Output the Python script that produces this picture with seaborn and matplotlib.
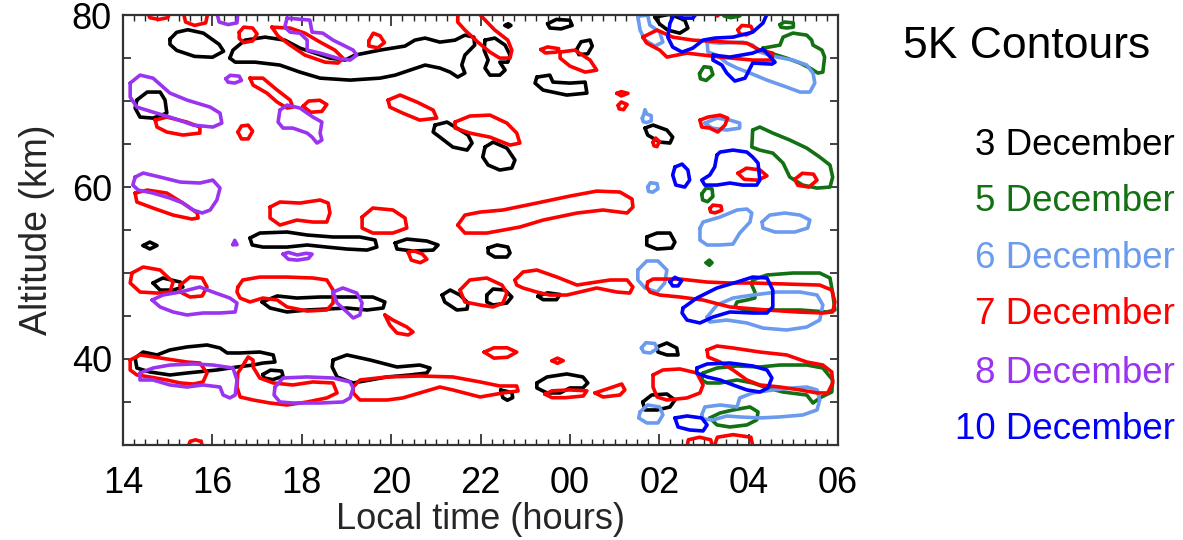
import matplotlib
matplotlib.use("Agg")
import matplotlib.pyplot as plt
from matplotlib.ticker import MultipleLocator, FixedLocator, FuncFormatter
import seaborn as sns
import pandas as pd

# ---------------- data (time in hours from 14 to 30 = 06 next day, altitude km) ----------------
days = ["3 December", "5 December", "6 December", "7 December", "8 December", "10 December"]
day_colors = ["#000000", "#137013", "#6a9bef", "#ff0000", "#9a34f0", "#0000ff"]

x_tick_values = [14, 16, 18, 20, 22, 24, 26, 28, 30]
x_tick_labels = ["14", "16", "18", "20", "22", "00", "02", "04", "06"]
y_tick_values = [40, 60, 80]
y_tick_labels = ["40", "60", "80"]

dec3_contours = [
    [(15.05,77.2),(15.2,78.0),(15.45,78.3),(15.8,77.9),(16.15,76.6),(16.25,75.8),(16.0,75.1),(15.6,75.2),(15.2,75.9),(15.05,76.6)],
    [(16.39,75.0),(16.46,75.93),(16.73,77.09),(17.18,77.44),(17.62,77.09),(17.96,76.16),(18.63,75.0),(18.97,74.77),(19.19,75.35),(19.75,75.93),(20.31,76.4),(20.53,77.09),(20.76,77.33),(21.09,76.86),(21.43,77.09),(21.65,77.67),(21.85,77.44),(21.87,76.51),(21.65,75.35),(21.58,74.19),(21.65,73.26),(21.49,72.79),(21.32,73.37),(21.09,73.84),(20.76,74.19),(20.42,73.6),(20.09,73.02),(19.75,72.67),(19.08,72.44),(18.41,72.67),(17.96,73.37),(17.51,74.19),(16.95,74.53),(16.51,74.53)],
    [(22.1,77.09),(22.32,77.33),(22.55,76.51),(22.66,75.35),(22.61,74.53),(22.43,74.53),(22.55,73.6),(22.43,73.02),(22.21,73.02),(22.1,73.84),(22.17,74.77),(22.08,75.93)],
    [(22.55,78.8),(22.62,79.0),(22.68,78.8),(22.62,78.6)],
    [(23.5,79.0),(23.7,79.5),(24.0,79.4),(24.05,78.8),(23.8,78.4),(23.55,78.5)],
    [(24.15,76.0),(24.25,76.9),(24.45,77.1),(24.5,76.4),(24.4,75.5),(24.2,75.4)],
    [(23.26,72.79),(23.55,73.02),(23.62,72.21),(24.0,72.09),(24.34,72.21),(24.38,70.93),(23.93,70.7),(23.4,71.28),(23.22,72.09)],
    [(25.9,79.77),(26.24,80.1),(26.57,79.42),(26.64,78.49),(26.46,77.9),(26.19,78.26),(26.01,78.95)],
    [(14.31,70.12),(14.54,71.05),(14.83,71.05),(14.94,70.12),(14.98,68.6),(14.67,68.02),(14.38,68.14),(14.27,69.19)],
    [(20.98,67.21),(21.25,67.56),(21.47,66.86),(21.72,66.05),(21.81,65.12),(21.7,64.3),(21.38,64.65),(21.09,65.81),(20.94,66.4)],
    [(22.1,64.65),(22.28,65.23),(22.59,64.53),(22.77,63.14),(22.7,62.21),(22.43,61.98),(22.17,62.56),(22.05,63.49)],
    [(25.68,66.86),(25.86,67.21),(26.17,66.63),(26.3,65.81),(26.24,65.12),(26.01,65.23),(25.74,66.05)],
    [(25.72,54.19),(25.95,54.65),(26.24,54.65),(26.35,53.6),(26.28,52.91),(25.95,52.79),(25.72,53.26)],
    [(14.45,53.2),(14.6,53.6),(14.76,53.2),(14.6,52.8)],
    [(16.84,54.07),(17.06,54.65),(17.67,54.77),(18.12,54.42),(18.7,54.19),(19.3,54.19),(19.64,53.84),(19.68,53.02),(19.46,52.67),(19.01,52.79),(18.56,53.02),(18.12,53.26),(17.67,53.02),(17.13,53.02),(16.89,53.26)],
    [(20.09,53.49),(20.35,53.95),(20.8,53.72),(21.05,53.26),(20.94,52.67),(20.49,52.56),(20.13,52.79)],
    [(22.17,52.91),(22.37,53.26),(22.61,53.02),(22.66,52.33),(22.59,51.86),(22.32,51.86),(22.17,52.33)],
    [(14.67,48.84),(14.89,49.42),(15.28,48.95),(15.34,48.37),(15.12,48.02),(14.83,48.02)],
    [(17.11,46.63),(17.45,47.33),(17.89,47.09),(18.41,47.21),(19.01,47.21),(19.59,47.21),(19.86,46.63),(19.82,45.93),(19.46,45.7),(19.01,45.93),(18.56,45.81),(18.12,45.7),(17.67,45.47),(17.29,45.93)],
    [(21.14,47.44),(21.32,48.02),(21.54,47.44),(21.72,46.51),(21.7,45.81),(21.47,45.7),(21.2,46.63)],
    [(22.14,47.44),(22.28,48.14),(22.55,48.02),(22.7,47.21),(22.59,46.51),(22.28,46.28),(22.14,46.63)],
    [(23.28,47.3),(23.5,47.7),(23.78,47.5),(23.7,46.9),(23.4,46.9)],
    [(25.95,41.4),(26.17,41.86),(26.39,41.28),(26.42,40.47),(26.17,40.47),(25.97,40.81)],
    [(14.27,40.12),(14.45,40.81),(14.76,40.47),(15.05,41.05),(15.43,41.4),(15.88,41.63),(16.17,41.28),(16.33,40.7),(16.62,40.7),(17.06,40.81),(17.36,40.47),(17.4,39.65),(17.13,39.53),(16.91,39.3),(16.55,39.07),(16.1,38.72),(15.43,38.37),(15.05,38.14),(14.6,38.49),(14.31,38.95)],
    [(17.13,38.2),(17.3,38.7),(17.55,38.6),(17.58,38.0),(17.35,37.6),(17.15,37.8)],
    [(18.7,39.88),(19.01,40.47),(19.53,39.88),(20.13,39.07),(20.64,39.3),(20.87,38.95),(20.8,38.37),(20.42,38.14),(19.91,37.91),(19.53,37.56),(19.15,37.21),(18.79,37.91),(18.68,39.07)],
    [(23.26,37.21),(23.49,37.91),(23.93,38.26),(24.29,37.91),(24.4,37.21),(24.29,36.63),(24.0,36.63),(23.78,36.05),(23.49,36.05),(23.26,36.63)],
    [(22.45,36.4),(22.5,35.5),(22.6,35.2),(22.72,35.5),(22.7,36.1)],
    [(25.63,35.0),(25.83,35.81),(26.17,35.93),(26.35,35.23),(26.24,34.42),(25.95,34.07),(25.68,34.07)],
]

dec5_contours = [
    [(27.4,80.3),(27.45,79.9),(27.6,79.7),(27.8,79.9),(27.85,80.3)],
    [(28.7,78.9),(28.8,79.2),(29.0,79.1),(29.0,78.6),(28.85,78.5),(28.72,78.6)],
    [(28.32,76.16),(28.7,76.51),(28.77,77.44),(28.99,77.91),(29.3,77.67),(29.41,77.09),(29.44,76.51),(29.64,75.93),(29.7,75.12),(29.66,73.37),(29.55,73.26),(29.37,73.84),(29.15,74.42),(28.85,75.0),(28.63,75.35),(28.41,75.7)],
    [(26.9,73.2),(27.0,74.0),(27.15,73.9),(27.2,73.1),(27.05,72.4),(26.92,72.6)],
    [(28.09,66.63),(28.25,66.98),(28.54,66.28),(28.92,65.47),(29.3,64.53),(29.59,63.49),(29.82,62.56),(29.88,61.16),(29.82,60.0),(29.53,59.88),(29.21,60.23),(28.92,61.16),(28.77,62.79),(28.54,63.95),(28.25,64.3),(28.07,64.65)],
    [(26.95,59.2),(27.05,59.9),(27.18,59.8),(27.2,58.9),(27.08,58.3),(26.97,58.5)],
    [(27.05,51.2),(27.12,51.5),(27.18,51.2),(27.12,50.9)],
    [(28.09,49.19),(28.41,49.77),(28.99,50.0),(29.59,50.0),(29.82,49.42),(29.88,47.67),(29.93,45.7),(29.75,45.47),(29.15,45.7),(28.54,45.7),(27.92,45.7),(27.69,46.05),(27.74,46.63),(27.96,46.86),(28.14,47.09),(28.14,47.79),(28.07,48.6)],
    [(26.98,38.37),(27.29,38.95),(27.74,39.19),(28.25,39.07),(28.7,39.3),(29.3,39.3),(29.66,38.95),(29.88,37.56),(29.86,36.16),(29.59,35.47),(29.44,34.88),(29.3,35.81),(28.77,36.16),(28.41,36.63),(28.09,37.21),(27.74,37.56),(27.36,37.21),(27.07,37.21),(26.95,37.56)],
    [(27.13,33.14),(27.36,33.72),(27.65,34.07),(28.03,34.42),(28.21,33.84),(28.18,32.91),(27.96,32.33),(27.58,32.09),(27.29,32.33)],
]

dec6_contours = [
    [(25.52,79.88),(25.74,80.0),(25.79,78.84),(26.01,78.02),(26.08,76.86),(25.9,76.4),(25.68,77.09),(25.57,78.26)],
    [(27.07,76.86),(27.36,76.74),(27.87,76.86),(28.09,76.51),(28.25,75.7),(28.63,75.12),(28.99,74.77),(29.3,74.19),(29.44,73.26),(29.48,72.09),(29.37,71.05),(29.15,71.05),(28.85,71.63),(28.41,72.44),(28.03,73.26),(27.74,73.84),(27.51,74.42),(27.29,75.35),(27.09,75.7)],
    [(25.62,68.0),(25.65,68.4),(25.68,69.0),(25.72,68.5),(25.82,68.3),(25.82,67.7),(25.72,67.5),(25.64,67.6)],
    [(27.02,67.44),(27.29,68.02),(27.58,67.79),(27.8,67.44),(27.8,66.86),(27.51,66.63),(27.18,66.86)],
    [(25.74,60.0),(25.8,60.5),(25.95,60.4),(25.97,59.8),(25.85,59.4),(25.76,59.5)],
    [(26.91,55.23),(26.98,55.93),(27.36,56.51),(27.74,57.33),(27.96,57.44),(28.07,56.98),(28.03,55.93),(27.8,54.65),(27.65,53.37),(27.36,53.26),(27.07,53.26),(26.91,53.84)],
    [(28.3,55.93),(28.47,56.74),(28.81,56.98),(29.15,56.74),(29.37,56.16),(29.32,55.23),(29.03,54.77),(28.59,54.77),(28.32,55.23)],
    [(25.52,50.35),(25.72,51.4),(25.97,51.4),(26.17,50.35),(26.12,48.84),(25.95,47.79),(25.68,48.26),(25.52,49.19)],
    [(27.07,44.88),(27.29,46.28),(27.65,47.09),(28.09,47.44),(28.63,47.79),(29.15,47.79),(29.53,47.44),(29.66,46.28),(29.59,44.53),(29.3,43.72),(28.85,43.37),(28.32,43.6),(27.96,44.19),(27.51,44.53),(27.13,44.3)],
    [(25.6,41.3),(25.7,41.9),(25.9,41.8),(25.95,41.2),(25.8,40.7),(25.65,40.8)],
    [(25.57,33.84),(25.74,34.65),(26.01,34.42),(26.08,33.49),(25.97,32.56),(25.72,32.56),(25.54,33.14)],
    [(26.95,33.49),(27.02,34.42),(27.36,34.65),(27.74,34.42),(27.8,35.47),(28.09,36.05),(28.54,36.4),(28.99,36.63),(29.3,36.74),(29.53,36.4),(29.59,35.23),(29.53,34.07),(29.21,33.49),(28.7,33.26),(28.25,33.14),(27.8,33.26),(27.51,33.37),(27.2,32.91),(26.98,33.02)],
]

dec7_contours = [
    [(14.55,80.3),(14.6,79.7),(14.8,79.5),(15.0,79.7),(15.05,80.3)],
    [(15.35,80.3),(15.4,79.2),(15.6,78.8),(15.85,79.1),(15.9,80.3)],
    [(16.6,78.0),(16.7,78.6),(16.9,78.5),(17.0,77.8),(16.9,77.0),(16.7,76.8),(16.6,77.3)],
    [(17.33,78.6),(17.74,78.49),(18.07,77.9),(18.41,76.86),(18.74,75.93),(18.92,75.0),(18.81,74.42),(18.52,74.53),(18.07,75.35),(17.74,76.51),(17.47,77.56)],
    [(19.5,77.0),(19.6,77.9),(19.75,77.6),(19.85,76.8),(19.7,76.2),(19.5,76.4)],
    [(21.49,80.3),(21.94,80.3),(22.32,78.26),(22.61,77.09),(22.7,75.93),(22.66,75.0),(22.43,75.0),(22.21,75.7),(21.94,76.86),(21.65,78.26),(21.49,79.19)],
    [(23.35,76.0),(23.5,76.3),(23.75,76.1),(23.7,75.7),(23.45,75.6)],
    [(23.78,75.7),(24.11,75.93),(24.45,74.77),(24.6,73.6),(24.34,73.37),(24.0,74.07),(23.78,75.0)],
    [(25.05,70.9),(25.15,71.1),(25.3,70.9),(25.15,70.6)],
    [(25.08,69.5),(25.15,69.9),(25.28,69.6),(25.2,69.0),(25.1,69.1)],
    [(25.63,77.44),(25.95,78.26),(26.3,77.44),(26.75,77.09),(27.51,76.86),(27.96,76.74),(28.25,75.93),(28.54,75.58),(28.52,74.77),(28.09,74.77),(27.36,75.12),(26.62,75.58),(26.17,75.12),(26.01,75.93),(25.72,76.74)],
    [(27.76,78.3),(27.85,78.8),(28.05,78.7),(28.1,78.1),(27.95,77.7),(27.8,77.8)],
    [(27.25,80.3),(27.3,79.9),(27.38,80.3)],
    [(14.72,67.79),(14.98,68.14),(15.43,67.56),(15.72,66.98),(15.72,66.28),(15.34,66.05),(14.98,66.4),(14.76,66.98)],
    [(16.57,66.4),(16.65,67.1),(16.8,67.2),(16.9,66.5),(16.8,65.6),(16.65,65.6)],
    [(16.84,72.67),(17.13,72.67),(17.45,71.28),(17.74,70.12),(17.8,69.3),(17.67,69.19),(17.45,69.88),(17.22,70.93),(16.91,71.86)],
    [(18.03,69.4),(18.15,70.0),(18.4,70.1),(18.56,69.6),(18.45,68.8),(18.2,68.7)],
    [(19.93,70.12),(20.2,70.7),(20.58,69.88),(20.94,68.95),(21.02,68.02),(20.64,67.79),(20.26,68.6),(19.97,69.3)],
    [(21.43,67.56),(21.76,68.26),(22.21,68.37),(22.59,67.44),(22.81,66.28),(22.88,65.12),(22.66,64.88),(22.21,65.81),(21.76,66.28),(21.43,66.86)],
    [(26.91,67.79),(27.09,68.14),(27.36,68.37),(27.53,68.02),(27.47,67.21),(27.31,66.4),(27.13,66.86),(26.95,66.98)],
    [(25.86,65.2),(25.92,65.7),(26.0,65.3),(25.95,64.7),(25.88,64.8)],
    [(27.76,61.6),(27.95,62.2),(28.25,62.0),(28.41,61.3),(28.2,60.8),(27.9,60.9)],
    [(29.03,60.9),(29.2,61.6),(29.45,61.5),(29.53,60.8),(29.35,60.0),(29.1,60.2)],
    [(27.13,57.5),(27.2,57.9),(27.38,57.8),(27.4,57.3),(27.25,57.0),(27.15,57.1)],
    [(17.29,57.67),(17.51,58.26),(17.96,58.14),(18.41,58.49),(18.59,58.14),(18.63,56.98),(18.56,55.93),(18.25,55.93),(17.89,56.16),(17.51,55.58),(17.29,56.4)],
    [(19.35,56.51),(19.59,57.56),(20.04,57.33),(20.31,56.4),(20.35,55.23),(20.04,54.65),(19.59,54.65),(19.35,55.23)],
    [(21.49,55.58),(21.65,56.74),(21.99,57.09),(22.5,57.33),(23.26,58.14),(24.0,58.95),(24.6,59.53),(25.12,59.42),(25.39,58.6),(25.41,57.67),(25.28,56.98),(24.74,57.33),(24.16,56.98),(23.4,56.16),(22.88,55.35),(22.14,54.65),(21.65,54.65)],
    [(14.27,59.3),(14.54,59.65),(14.98,59.3),(15.34,58.14),(15.66,56.98),(15.68,56.4),(15.54,56.28),(15.12,56.74),(14.67,57.56),(14.31,58.26)],
    [(20.38,52.4),(20.5,52.6),(20.7,52.2),(20.8,51.6),(20.65,51.2),(20.45,51.5)],
    [(14.2,50.0),(14.45,50.7),(14.83,50.35),(15.12,48.95),(15.05,47.79),(14.76,47.67),(14.38,47.79),(14.16,48.84)],
    [(15.28,48.6),(15.5,49.53),(15.77,49.42),(15.88,48.37),(15.77,47.33),(15.5,47.21),(15.28,47.79)],
    [(16.57,48.37),(16.68,49.19),(17.06,49.53),(17.67,49.53),(18.25,49.42),(18.56,49.19),(18.7,48.02),(18.7,46.51),(18.56,45.7),(18.12,45.58),(17.67,46.05),(17.45,46.86),(17.13,47.09),(16.84,46.63),(16.62,47.09),(16.55,47.79)],
    [(19.86,45.12),(20.04,44.53),(20.35,43.72),(20.49,43.14),(20.38,42.79),(20.13,43.02),(19.97,43.95)],
    [(21.54,48.02),(21.76,49.19),(22.14,49.42),(22.48,48.6),(22.59,47.67),(22.5,46.51),(22.28,46.05),(21.99,46.28),(21.65,46.63)],
    [(22.77,49.19),(22.95,50.12),(23.26,50.35),(23.71,49.53),(24.16,48.6),(24.45,48.84),(24.9,49.19),(25.28,49.19),(25.41,48.37),(25.34,47.67),(25.05,47.79),(24.6,48.26),(24.22,47.79),(23.93,47.44),(23.55,47.44),(23.26,47.79),(22.95,48.26),(22.81,48.6)],
    [(25.74,48.95),(25.86,49.3),(26.46,49.3),(27.07,48.95),(27.58,48.84),(28.09,48.84),(29.59,48.6),(29.86,48.02),(29.93,46.63),(29.88,45.47),(29.66,45.35),(29.08,45.47),(28.41,45.7),(27.58,46.05),(26.98,46.86),(26.46,47.21),(26.01,47.44),(25.79,47.79),(25.72,48.37)],
    [(22.08,40.8),(22.3,41.3),(22.6,41.3),(22.81,40.8),(22.6,40.2),(22.3,40.1)],
    [(23.6,39.8),(23.72,40.1),(23.85,39.8),(23.72,39.5)],
    [(27.07,41.05),(27.29,41.51),(27.65,41.28),(28.25,40.81),(28.85,40.47),(29.3,39.65),(29.66,39.3),(29.86,38.49),(29.88,37.21),(29.77,36.05),(29.53,36.05),(29.15,36.4),(28.7,36.74),(28.25,36.98),(27.96,37.56),(27.65,38.72),(27.36,39.65),(27.09,40.23)],
    [(25.86,38.14),(26.08,38.72),(26.46,38.84),(26.84,38.37),(26.98,36.98),(26.91,36.05),(26.62,35.47),(26.17,35.23),(25.95,35.58),(25.86,36.74)],
    [(14.16,39.88),(14.38,40.47),(14.83,40.12),(15.43,39.65),(15.72,39.53),(15.88,38.37),(15.79,37.33),(15.57,37.09),(15.28,37.21),(14.98,37.56),(14.6,37.91),(14.31,38.14),(14.16,38.72)],
    [(16.73,39.65),(16.8,40.23),(16.91,39.88),(16.91,39.07),(17.06,37.79),(17.36,37.21),(17.8,36.98),(18.25,37.33),(18.7,37.21),(18.79,36.05),(18.56,35.47),(18.12,35.0),(17.67,34.65),(17.29,34.88),(16.91,35.23),(16.62,35.58),(16.55,36.74),(16.57,38.37)],
    [(19.15,36.74),(19.3,37.56),(19.91,37.91),(20.64,38.02),(21.38,37.91),(21.99,37.33),(22.43,36.86),(22.81,36.86),(22.84,36.28),(22.5,36.05),(21.99,35.58),(21.38,36.4),(21.09,36.74),(20.64,36.05),(20.26,35.47),(19.91,35.23),(19.3,35.23),(19.15,36.05)],
    [(23.44,35.9),(23.6,36.3),(24.0,36.4),(24.38,36.3),(24.3,35.7),(23.9,35.5),(23.6,35.5)],
    [(24.56,36.05),(24.9,36.63),(25.16,37.09),(25.23,36.4),(25.12,35.81),(24.74,35.58)],
    [(26.62,29.7),(26.65,30.6),(26.9,30.9),(27.15,30.6),(27.2,29.7)],
    [(27.22,29.7),(27.3,30.9),(27.65,31.2),(28.05,30.9),(28.1,29.7)],
    [(15.45,29.7),(15.5,30.4),(15.62,30.6),(15.75,30.4),(15.78,29.7)],
]

dec8_contours = [
    [(16.1,80.3),(16.15,79.2),(16.35,78.9),(16.55,79.1),(16.57,80.3)],
    [(17.67,79.65),(18.18,79.42),(18.23,78.02),(18.47,77.9),(18.7,77.09),(19.15,75.93),(19.23,75.35),(19.08,74.77),(18.79,75.0),(18.41,75.58),(18.12,75.93),(18.12,77.09),(17.96,77.9),(17.74,78.02),(17.62,78.6)],
    [(16.3,72.6),(16.4,73.0),(16.6,72.9),(16.65,72.4),(16.5,72.1),(16.35,72.2)],
    [(14.16,72.09),(14.38,73.02),(14.67,72.67),(15.05,70.93),(15.43,70.12),(15.95,69.3),(16.17,68.6),(16.21,67.44),(16.01,66.98),(15.57,67.21),(15.12,68.02),(14.67,68.72),(14.31,69.3),(14.16,70.47)],
    [(17.51,68.95),(17.67,69.53),(17.96,69.19),(18.25,68.14),(18.45,67.56),(18.41,66.28),(18.45,65.47),(18.34,65.12),(18.23,65.81),(18.12,66.28),(17.8,66.86),(17.58,66.86),(17.47,67.56)],
    [(14.27,61.16),(14.45,61.63),(14.83,61.16),(15.28,60.58),(15.72,60.47),(16.01,60.81),(16.17,59.88),(16.1,58.49),(15.95,57.33),(15.77,56.98),(15.57,57.33),(15.34,58.14),(15.05,58.72),(14.67,59.3),(14.34,59.65),(14.22,60.23)],
    [(16.46,53.3),(16.5,53.8),(16.55,53.3)],
    [(17.58,52.2),(17.7,52.4),(17.9,52.1),(18.1,52.3),(18.23,52.2),(18.15,51.7),(17.9,51.5),(17.7,51.6)],
    [(14.65,46.86),(14.89,47.44),(15.28,47.79),(15.72,48.37),(16.01,47.79),(16.39,47.09),(16.55,46.51),(16.51,45.47),(16.17,45.35),(15.79,45.35),(15.43,45.12),(15.12,45.47),(14.83,46.05)],
    [(18.7,47.79),(18.92,48.26),(19.23,47.67),(19.35,46.51),(19.3,45.12),(19.15,44.77),(19.01,45.47),(18.79,46.51)],
    [(14.38,38.37),(14.67,38.95),(15.05,39.3),(15.57,39.42),(16.01,39.3),(16.46,38.95),(16.55,37.56),(16.51,35.81),(16.39,35.47),(16.24,35.81),(16.17,36.74),(15.79,36.98),(15.43,36.74),(15.05,36.98),(14.67,37.56),(14.38,37.56)],
    [(17.4,36.74),(17.58,37.79),(18.12,37.91),(18.7,37.79),(19.08,37.33),(19.15,36.63),(19.08,35.47),(18.92,35.0),(18.41,34.88),(17.8,34.88),(17.51,35.0),(17.38,35.81)],
]

dec10_contours = [
    [(26.35,80.23),(26.24,79.07),(26.19,77.44),(26.3,76.28),(26.51,75.7),(26.75,76.16),(26.98,77.09),(27.24,77.33),(27.65,77.44),(28.09,78.02),(28.32,79.07),(28.43,80.35),(26.86,80.35),(26.75,79.65),(26.53,79.65)],
    [(27.2,75.35),(27.58,75.12),(28.09,75.58),(28.32,76.05),(28.59,74.53),(28.52,74.3),(28.09,74.42),(27.92,72.67),(27.69,72.33),(27.51,73.26),(27.4,74.19),(27.2,74.77)],
    [(27.29,63.72),(27.36,64.07),(27.65,64.3),(27.96,64.07),(28.09,63.49),(28.21,62.79),(28.25,60.81),(28.18,60.23),(27.87,60.23),(27.58,60.47),(27.29,60.23),(27.02,60.23),(26.95,60.81),(27.13,61.4),(27.24,62.33)],
    [(26.35,62.33),(26.51,62.67),(26.64,61.98),(26.68,60.81),(26.57,60.0),(26.37,60.23),(26.3,61.4)],
    [(26.24,49.0),(26.35,49.5),(26.5,49.1),(26.42,48.5),(26.3,48.5)],
    [(26.53,45.93),(26.84,47.09),(27.29,48.26),(27.74,48.95),(28.09,49.53),(28.41,49.42),(28.54,48.02),(28.54,46.05),(28.41,45.35),(28.09,45.35),(27.58,45.47),(27.2,44.88),(26.91,44.19),(26.62,44.53),(26.51,45.35)],
    [(26.84,38.95),(27.07,39.42),(27.58,39.53),(28.09,39.19),(28.41,38.72),(28.52,37.79),(28.43,36.63),(28.25,36.16),(27.96,36.4),(27.65,36.98),(27.36,37.56),(27.07,37.91),(26.84,38.37)],
    [(26.35,33.14),(26.62,33.37),(26.95,33.14),(27.07,32.33),(26.98,31.63),(26.68,31.74),(26.42,32.09)],
]

contours_by_day = [dec3_contours, dec5_contours, dec6_contours, dec7_contours, dec8_contours, dec10_contours]

# ---------------- long table for seaborn ----------------
rows = []
for day, blobs in zip(days, contours_by_day):
    for bi, pts in enumerate(blobs):
        closed = list(pts) + [pts[0]]
        for k, (t, a) in enumerate(closed):
            rows.append({"day": day, "blob": f"{day}-{bi}", "order": k, "time": t, "alt": a})
df = pd.DataFrame(rows)

# ---------------- figure ----------------
sns.set_theme(style="white")
plt.rcParams["font.family"] = ["Liberation Sans", "DejaVu Sans"]

fig = plt.figure(figsize=(11.83, 5.40), dpi=100)
ax = fig.add_axes([0.104, 0.176, 0.6044, 0.796])

sns.lineplot(data=df, x="time", y="alt", hue="day", units="blob", estimator=None,
             sort=False, palette=dict(zip(days, day_colors)), hue_order=days,
             linewidth=2.6, legend=False, ax=ax, solid_joinstyle="round",
             solid_capstyle="round")

ax.set_xlim(14, 30)
ax.set_ylim(30, 80)

ax.xaxis.set_major_locator(FixedLocator(x_tick_values))
ax.set_xticklabels(x_tick_labels)
ax.xaxis.set_minor_locator(MultipleLocator(0.25))
ax.yaxis.set_major_locator(MultipleLocator(5))
ax.yaxis.set_major_formatter(FuncFormatter(
    lambda v, p: y_tick_labels[y_tick_values.index(int(round(v)))] if int(round(v)) in y_tick_values else ""))

ax.tick_params(axis="x", which="major", direction="in", length=8, width=1.2,
               top=True, bottom=True, labelsize=26, pad=15, colors="#222222", labelcolor="black")
ax.tick_params(axis="x", which="minor", direction="in", length=4, width=1.0,
               top=True, bottom=True, colors="#222222")
ax.tick_params(axis="y", which="major", direction="in", length=6, width=1.2,
               left=True, right=True, labelsize=26, pad=8, colors="#222222", labelcolor="black")

for s in ax.spines.values():
    s.set_color("#333333")
    s.set_linewidth(1.6)

ax.set_xlabel("Local time (hours)", fontsize=26, labelpad=1)
ax.set_ylabel("Altitude (km)", fontsize=27, labelpad=12)

fig.text(0.868, 0.913, "5K Contours", fontsize=32, ha="center", va="center", color="black")
label_y = [0.731, 0.626, 0.522, 0.417, 0.309, 0.204]
for d, c, yy in zip(days, day_colors, label_y):
    fig.text(0.993, yy, d, fontsize=26.5, ha="right", va="center", color=c)

fig.savefig("out.png", dpi=100)
